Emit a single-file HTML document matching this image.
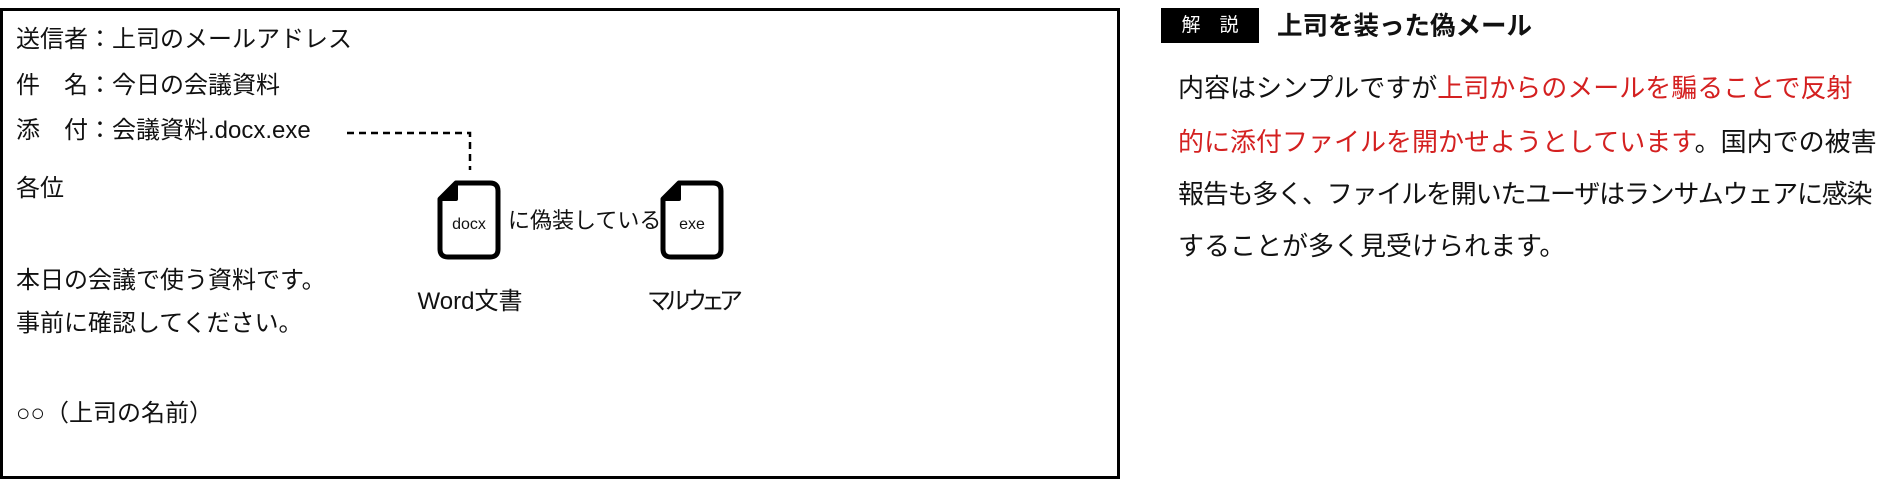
<!DOCTYPE html>
<html><head><meta charset="utf-8"><style>
body{margin:0;width:1886px;height:478px;background:#fff;position:relative;overflow:hidden;font-family:"Liberation Sans","Noto Sans CJK JP",sans-serif;color:#111}
.t{position:absolute;white-space:nowrap;line-height:1;transform:translateY(-50%)}
.l{font-size:24px;left:16px}
.p{font-size:26px;left:1178px}
.r{color:#d42020}
</style></head><body>
<div style="position:absolute;left:0;top:8px;width:1114px;height:465px;border:3px solid #000"></div>
<div class="t l" style="top:40px">送信者：上司のメールアドレス</div>
<div class="t l" style="top:86px">件　名：今日の会議資料</div>
<div class="t l" style="top:131px">添　付：会議資料.docx.exe</div>
<div class="t l" style="top:189px">各位</div>
<div class="t l" style="top:281px">本日の会議で使う資料です。</div>
<div class="t l" style="top:324px">事前に確認してください。</div>
<div class="t l" style="top:414px">○○（上司の名前）</div>
<svg style="position:absolute;left:0;top:0" width="1886" height="478">
<path d="M347 133 H470 V170" fill="none" stroke="#000" stroke-width="2.5" stroke-dasharray="7,5"/>
<g fill="none" stroke="#000" stroke-width="5" stroke-linejoin="round">
<path d="M456 183 H490 Q498 183 498 191 V249 Q498 257 490 257 H448 Q440 257 440 249 V199 Z"/>
<path d="M679 183 H713 Q721 183 721 191 V249 Q721 257 713 257 H671 Q663 257 663 249 V199 Z"/>
</g>
<path d="M456 183 V199 H440 Z" fill="#000" stroke="#000" stroke-width="4" stroke-linejoin="round"/>
<path d="M679 183 V199 H663 Z" fill="#000" stroke="#000" stroke-width="4" stroke-linejoin="round"/>
</svg>
<div class="t" style="left:469px;top:225px;font-size:16px;transform:translate(-50%,-50%)">docx</div>
<div class="t" style="left:692px;top:225px;font-size:16px;transform:translate(-50%,-50%)">exe</div>
<div class="t" style="left:508px;top:221px;font-size:22px">に偽装している</div>
<div class="t" style="left:470px;top:302px;font-size:24px;transform:translate(-50%,-50%)">Word文書</div>
<div class="t" style="left:692px;top:302px;font-size:24px;letter-spacing:-6px;transform:translate(-50%,-50%)">マルウェア</div>
<div style="position:absolute;left:1161px;top:8px;width:98px;height:35px;background:#000;color:#fff;font-size:19px;line-height:35px;text-align:center">解　説</div>
<div class="t" style="left:1277px;top:27px;font-size:25.5px;font-weight:bold">上司を装った偽メール</div>
<div class="t p" style="top:88px">内容はシンプルですが<span class="r">上司からのメールを騙ることで反射</span></div>
<div class="t p" style="top:142px"><span class="r">的に添付ファイルを開かせようとしています</span>。国内での被害</div>
<div class="t p" style="top:194px;letter-spacing:-1.2px">報告も多く、ファイルを開いたユーザはランサムウェアに感染</div>
<div class="t p" style="top:246px">することが多く見受けられます。</div>
</body></html>
